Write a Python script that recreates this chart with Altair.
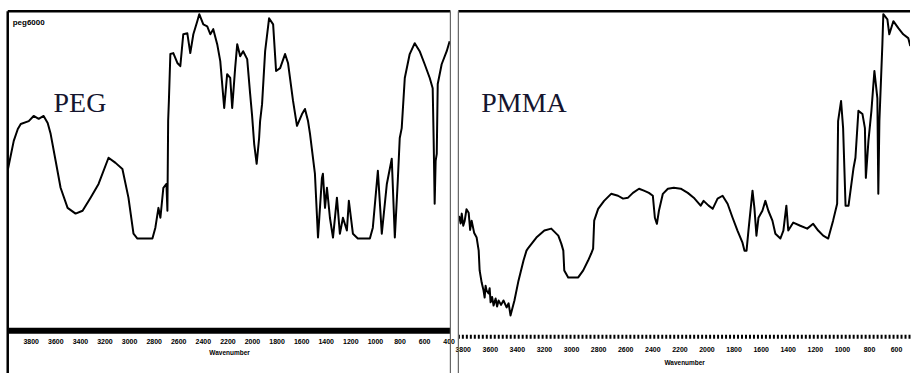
import altair as alt
import pandas as pd

# ---------------- data ----------------
peg_wn = [3985, 3938, 3905, 3881, 3816, 3776, 3735, 3695, 3662, 3638, 3597, 3557, 3500, 3435,
          3378, 3313, 3248, 3167, 3110, 3054, 3005, 2964, 2932, 2810, 2786, 2761, 2745, 2721,
          2696, 2688, 2682, 2676, 2664, 2640, 2607, 2583, 2559, 2526, 2502, 2477, 2445, 2429,
          2396, 2364, 2339, 2315, 2283, 2258, 2226, 2202, 2177, 2161, 2137, 2120, 2096, 2072,
          2039, 2015, 1999, 1982, 1962, 1942, 1934, 1918, 1893, 1861, 1828, 1804, 1771, 1731,
          1707, 1666, 1634, 1593, 1569, 1544, 1528, 1488, 1463, 1431, 1423, 1406, 1390, 1366,
          1341, 1309, 1285, 1260, 1228, 1212, 1179, 1139, 1041, 1017, 976, 944, 903, 863, 838,
          814, 798, 782, 757, 717, 676, 636, 595, 554, 530, 522, 514, 506, 497, 489, 457, 416, 392]
peg_t = [50.6, 59.4, 63.1, 64.7, 65.6, 67.2, 66.3, 67.2, 65.0, 61.6, 53.1, 44.7, 38.4, 36.6,
         37.5, 41.6, 45.9, 54.1, 52.5, 50.6, 41.6, 30.3, 28.8, 28.8, 32.2, 38.4, 35.3, 44.7,
         45.9, 37.5, 65.6, 71.9, 86.6, 86.9, 83.8, 82.8, 92.8, 93.1, 86.9, 92.8, 96.9, 99.1,
         95.9, 95.3, 92.8, 94.4, 89.7, 84.4, 69.7, 80.3, 79.1, 69.7, 82.2, 89.7, 85.9, 87.5,
         85.0, 74.1, 67.2, 58.4, 52.2, 60.3, 65.6, 70.9, 87.5, 97.8, 95.9, 81.3, 82.2, 86.6,
         83.8, 71.9, 64.1, 67.8, 69.4, 65.6, 61.6, 49.1, 29.1, 47.8, 49.1, 38.4, 44.7, 35.3,
         29.1, 41.6, 30.3, 35.3, 31.3, 40.6, 30.3, 28.8, 28.8, 32.2, 50.0, 30.3, 45.9, 53.8, 29.1,
         46.9, 60.3, 63.4, 79.1, 86.6, 90.0, 87.5, 83.4, 79.1, 75.9, 59.4, 39.7, 53.1, 55.3, 77.2,
         83.4, 87.5, 90.6]

pmma_wn = [3827, 3815, 3807, 3796, 3785, 3772, 3756, 3745, 3734, 3715, 3697, 3682, 3675, 3660,
           3646, 3638, 3631, 3624, 3609, 3601, 3594, 3583, 3572, 3557, 3546, 3535, 3517, 3499,
           3476, 3461, 3447, 3418, 3388, 3351, 3329, 3315, 3256, 3197, 3146,
           3094, 3072, 3057, 3050, 3021, 2947, 2910, 2874, 2851, 2837, 2829, 2800, 2756, 2704,
           2653, 2616, 2579, 2543, 2498, 2462, 2425, 2396, 2381, 2366, 2351, 2322, 2285, 2241,
           2190, 2138, 2094, 2043, 2021, 1984, 1954, 1918, 1881, 1844, 1807, 1771, 1734, 1719,
           1704, 1690, 1660, 1646, 1631, 1616, 1587, 1565, 1543, 1513, 1491, 1454, 1432, 1410,
           1396, 1359, 1307, 1256, 1212, 1175, 1138, 1101, 1065, 1035, 1028, 1006, 991, 973, 951,
           914, 900, 878, 848, 830, 823, 804, 782, 760, 738, 731, 723, 701, 694, 664, 650, 620,
           583, 547, 510, 495]
pmma_t = [35.9, 33.5, 36.6, 32.8, 34.4, 38.0, 36.9, 31.5, 34.4, 30.5, 29.1, 25.0, 18.8, 15.0,
          12.5, 10.3, 14.0, 12.5, 11.6, 13.2, 8.8, 10.5, 7.8, 10.0, 7.5, 9.4, 8.0, 9.4,
          7.2, 8.5, 4.7, 9.4, 15.6, 21.9, 25.0, 25.9, 29.1, 31.3, 31.9,
          29.7, 27.2, 25.0, 18.8, 16.6, 16.6, 18.8, 21.9, 24.1, 25.6, 34.4, 38.1, 40.6, 42.8,
          42.2, 41.3, 41.6, 43.1, 44.4, 43.8, 43.1, 42.2, 35.3, 33.4, 37.5, 42.8, 44.4, 44.7,
          44.4, 43.1, 41.6, 39.1, 40.6, 39.1, 38.1, 41.3, 42.2, 39.7, 35.3, 31.3, 27.5, 25.0,
          25.0, 31.3, 43.8, 38.4, 29.7, 35.3, 37.5, 40.6, 37.5, 34.4, 30.3, 28.8, 31.3, 39.1,
          31.3, 33.8, 32.8, 31.9, 33.4, 31.3, 29.7, 28.8, 34.4, 39.7, 65.6, 71.9, 63.4, 39.1, 39.1,
          50.9, 54.1, 68.8, 67.8, 63.4, 47.8, 59.4, 68.8, 81.3, 72.8, 42.8, 65.6, 89.7, 99.1, 97.5,
          92.8, 96.9, 94.7, 92.8, 91.6, 89.1]

peg_ticks = [3800, 3600, 3400, 3200, 3000, 2800, 2600, 2400, 2200, 2000, 1800, 1600, 1400,
             1200, 1000, 800, 600, 400]
pmma_ticks = [3800, 3600, 3400, 3200, 3000, 2800, 2600, 2400, 2200, 2000, 1800, 1600, 1400,
              1200, 1000, 800, 600]

peg_label = "PEG"
pmma_label = "PMMA"
peg_file = "peg6000"
x_title = "Wavenumber"

# ---------------- layout ----------------
H = 363
WL = 444
WR = 453
Y_DOMAIN = [-13.4, 100]

peg_df = pd.DataFrame({"wn": peg_wn, "t": peg_t, "i": range(len(peg_wn))})
pmma_df = pd.DataFrame({"wn": pmma_wn, "t": pmma_t, "i": range(len(pmma_wn))})
one = pd.DataFrame({"a": [0]})


def panel(df, ticks, domain, width, name, axis_offset, dom_width, dom_dash, lab_pad,
          title_pad, left_black, right_rule, text_x):
    axis_kw = dict(
        values=ticks, title=x_title, grid=False, ticks=False, labelFlush=False, format="d",
        offset=axis_offset, domainColor="black", domainWidth=dom_width,
        labelFont="Liberation Sans", labelFontSize=7, labelFontWeight="bold",
        labelColor="black", labelPadding=lab_pad, labelOverlap=False,
        titleFont="Liberation Sans", titleFontSize=6.5, titleFontWeight="bold",
        titleColor="black", titlePadding=title_pad,
    )
    if dom_dash:
        axis_kw["domainDash"] = dom_dash
    x = alt.X("wn:Q", scale=alt.Scale(domain=domain, reverse=True, nice=False, zero=False),
              axis=alt.Axis(**axis_kw))
    y = alt.Y("t:Q", scale=alt.Scale(domain=Y_DOMAIN, nice=False, zero=False), axis=None)
    line = alt.Chart(df).mark_line(color="black", strokeWidth=2, clip=True,
                                   strokeJoin="round").encode(x=x, y=y, order="i:Q")
    layers = [line]
    # frame
    layers.append(alt.Chart(one).mark_rule(color="black", strokeWidth=2.5).encode(
        x=alt.value(0), x2=alt.value(width), y=alt.value(0)))
    if left_black:
        layers.append(alt.Chart(one).mark_rule(color="black", strokeWidth=2.5).encode(
            x=alt.value(0), y=alt.value(0), y2=alt.value(H)))
    else:
        layers.append(alt.Chart(one).mark_rule(color="#666666", strokeWidth=1.2).encode(
            x=alt.value(0), y=alt.value(0), y2=alt.value(H)))
    if right_rule:
        layers.append(alt.Chart(one).mark_rule(color="#666666", strokeWidth=1.2).encode(
            x=alt.value(width), y=alt.value(0), y2=alt.value(H)))
    layers.append(alt.Chart(one).mark_text(
        text=name, font="Liberation Serif", fontSize=28, color="#15152e",
        align="left", baseline="alphabetic").encode(x=alt.value(text_x), y=alt.value(101.5)))
    return alt.layer(*layers).properties(width=width, height=H)


left = panel(peg_df, peg_ticks, [386, 3987], WL, peg_label, -43, 6, None, 7, 5,
             True, True, 46)
left = alt.layer(left, alt.Chart(one).mark_text(
    text=peg_file, font="Liberation Sans", fontSize=8, fontWeight="bold", color="black",
    align="left", baseline="alphabetic").encode(x=alt.value(5), y=alt.value(13.3)))

right = panel(pmma_df, pmma_ticks, [497, 3832], WR, pmma_label, -37, 4, [2, 2], 9, 7,
              False, False, 23)

chart = alt.hconcat(left, right, spacing=8).properties(
    padding={"left": 5.75, "top": 8.75, "right": 0, "bottom": 0},
    background="white",
    bounds="flush",
).configure_view(strokeWidth=0)

chart.save("out.html", embed_options={"renderer": "svg", "actions": False})
